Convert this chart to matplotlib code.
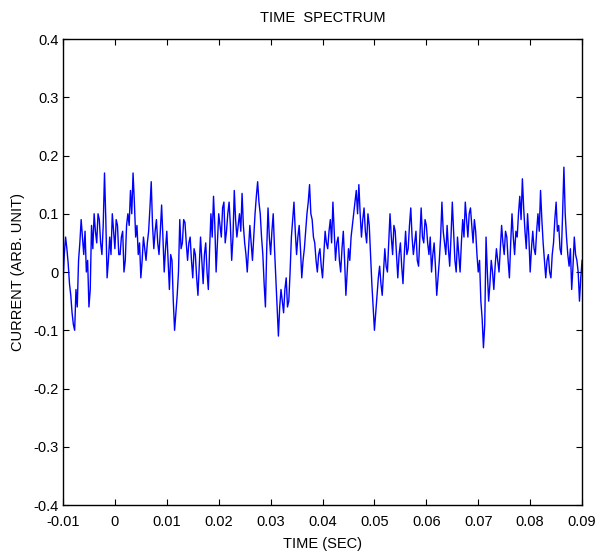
import matplotlib.pyplot as plt
import numpy as np

plt.rcParams['font.family'] = ['Liberation Sans', 'DejaVu Sans']

# current trace, one value every 0.25 ms from -0.01 s to 0.09 s
current = [
    # -0.0100 .. 0.0065
    -0.02, 0.03, 0.06, 0.04, 0.015, -0.02, -0.04, -0.07, -0.09, -0.1,
    -0.03, -0.06, 0.02, 0.05, 0.09, 0.06, 0.03, 0.07, 0.0, 0.02,
    -0.06, -0.03, 0.08, 0.04, 0.1, 0.07, 0.05, 0.1, 0.09, 0.05,
    0.03, 0.08, 0.17, 0.09, -0.01, 0.02, 0.06, 0.03, 0.1, 0.07,
    0.04, 0.09, 0.08, 0.03, 0.03, 0.06, 0.07, 0.0, 0.02, 0.08,
    0.1, 0.08, 0.14, 0.1, 0.17, 0.12, 0.06, 0.08, 0.03, 0.05,
    -0.01, 0.02, 0.06, 0.04, 0.02, 0.05, 0.07, 0.11,
    # 0.0070 .. 0.0240
    0.155, 0.08, 0.04, 0.07, 0.09, 0.05, 0.03, 0.07, 0.115, 0.06,
    0.0, 0.04, 0.07, 0.02, -0.03, 0.03, 0.02, -0.05, -0.1, -0.07,
    -0.04, 0.0, 0.09, 0.04, 0.05, 0.09, 0.085, 0.05, 0.02, 0.05,
    0.06, 0.02, -0.01, 0.04, 0.03, -0.01, -0.04, 0.01, 0.06, 0.02,
    -0.02, 0.03, 0.05, 0.0, -0.03, 0.04, 0.1, 0.06, 0.13, 0.08,
    0.0, 0.05, 0.1, 0.08, 0.06, 0.11, 0.12, 0.05, 0.07, 0.1,
    0.12, 0.08, 0.02, 0.06, 0.14, 0.09, 0.06, 0.08, 0.1, 0.07,
    # 0.0245 .. 0.0410
    0.135, 0.08, 0.05, 0.03, 0.0, 0.04, 0.08, 0.05, 0.02, 0.06,
    0.1, 0.13, 0.155, 0.12, 0.1, 0.06, 0.03, -0.02, -0.06, 0.04,
    0.11, 0.06, 0.03, 0.07, 0.1, 0.04, -0.01, -0.06, -0.11, -0.06,
    -0.03, -0.05, -0.07, -0.03, -0.01, -0.06, -0.05, 0.0, 0.06, 0.09,
    0.12, 0.07, 0.03, 0.06, 0.08, 0.04, -0.01, 0.02, 0.04, 0.07,
    0.1, 0.12, 0.15, 0.1, 0.09, 0.06, 0.05, 0.02, 0.0, 0.03,
    0.04, 0.01, -0.01, 0.03, 0.07, 0.05, 0.04, 0.07,
    # 0.0415 .. 0.0585
    0.09, 0.05, 0.12, 0.07, 0.02, 0.05, 0.06, 0.02, 0.0, 0.04,
    0.07, 0.02, -0.04, 0.0, 0.04, 0.02, 0.06, 0.08, 0.1, 0.12,
    0.14, 0.1, 0.15, 0.1, 0.06, 0.09, 0.11, 0.07, 0.05, 0.1,
    0.08, 0.03, -0.02, -0.06, -0.1, -0.07, -0.04, -0.01, 0.01, -0.02,
    -0.04, 0.0, 0.04, 0.01, 0.0, 0.05, 0.1, 0.06, 0.03, 0.08,
    0.07, 0.03, -0.01, 0.03, 0.05, 0.01, -0.02, 0.03, 0.07, 0.03,
    0.04, 0.08, 0.11, 0.06, 0.03, 0.05, 0.07, 0.02, 0.01, 0.06,
    # 0.0590 .. 0.0760
    0.11, 0.06, 0.05, 0.09, 0.08, 0.05, 0.03, 0.06, 0.0, 0.03,
    0.05, 0.01, -0.04, -0.01, 0.02, 0.06, 0.12, 0.07, 0.05, 0.03,
    0.08, 0.04, 0.01, 0.06, 0.12, 0.07, 0.02, 0.0, 0.06, 0.03,
    0.0, 0.05, 0.09, 0.06, 0.12, 0.09, 0.06, 0.1, 0.11, 0.08,
    0.05, 0.09, 0.07, 0.03, 0.0, 0.02, -0.05, -0.08, -0.13, -0.09,
    0.06, 0.0, -0.05, -0.02, 0.02, 0.0, -0.03, 0.01, 0.04, 0.02,
    0.0, 0.04, 0.08, 0.05, 0.03, 0.07, 0.06, 0.02, -0.01, 0.05,
    # 0.0765 .. 0.0900
    0.1, 0.06, 0.03, 0.07, 0.06, 0.1, 0.13, 0.09, 0.16, 0.11,
    0.07, 0.04, 0.1, 0.06, 0.0, 0.04, 0.07, 0.04, 0.03, 0.07,
    0.1, 0.07, 0.14, 0.09, 0.05, 0.02, -0.01, 0.02, 0.03, 0.0,
    -0.01, 0.03, 0.05, 0.09, 0.12, 0.07, 0.08, 0.04, 0.03, 0.1,
    0.18, 0.1, 0.06, 0.03, 0.01, 0.04, -0.03, 0.01, 0.06, 0.03,
    0.02, 0.0, -0.05, -0.01, 0.02,
]
time = np.linspace(-0.01, 0.09, len(current))

xticks = [-0.01, 0, 0.01, 0.02, 0.03, 0.04, 0.05, 0.06, 0.07, 0.08, 0.09]
xtick_labels = ['-0.01', '0', '0.01', '0.02', '0.03', '0.04', '0.05', '0.06', '0.07', '0.08', '0.09']
yticks = [-0.4, -0.3, -0.2, -0.1, 0, 0.1, 0.2, 0.3, 0.4]
ytick_labels = ['-0.4', '-0.3', '-0.2', '-0.1', '0', '0.1', '0.2', '0.3', '0.4']

fig = plt.figure(figsize=(5.97, 5.54), dpi=100)
ax = fig.add_axes([0.1055, 0.0884, 0.8695, 0.8412])

ax.plot(time, current, color='#0000ff', linewidth=1.0)

ax.set_xlim(-0.01, 0.09)
ax.set_ylim(-0.4, 0.4)
ax.set_xticks(xticks)
ax.set_xticklabels(xtick_labels)
ax.set_yticks(yticks)
ax.set_yticklabels(ytick_labels)
ax.tick_params(direction='in', length=4, width=0.8, labelsize=10.5,
               top=True, right=True, pad=3)
ax.tick_params(axis='x', pad=7)
for s in ax.spines.values():
    s.set_linewidth(1.0)

ax.set_title('TIME  SPECTRUM', fontsize=10.5, pad=12)
ax.set_xlabel('TIME (SEC)', fontsize=10.5, labelpad=6)
ax.set_ylabel('CURRENT (ARB. UNIT)', fontsize=10.5, labelpad=6)

plt.savefig('out.png', dpi=100)
